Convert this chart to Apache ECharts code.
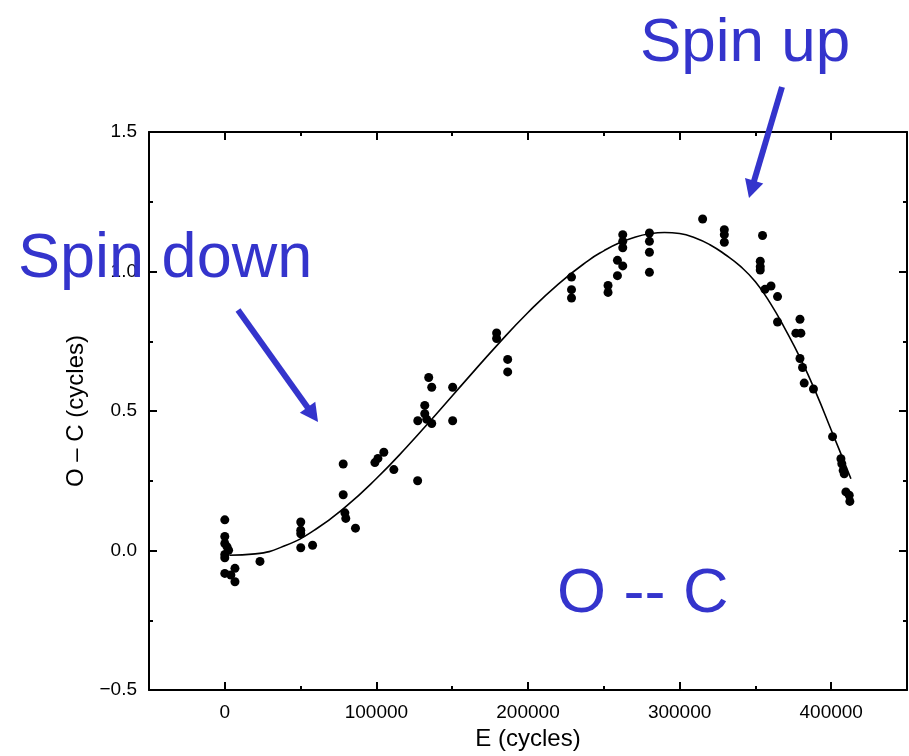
<!DOCTYPE html>
<html><head><meta charset="utf-8">
<script src="https://cdn.jsdelivr.net/npm/echarts@6/dist/echarts.min.js"></script>
<style>html,body{margin:0;padding:0;background:#fff}#c{width:909px;height:756px}</style>
</head><body><div id="c"></div>
<script>
// ---- data ----
const obsE = [0, 0, 0, 1500, 2500, 0, 0, 0, 4000, 6700, 6700,
  23200, 50100, 50100, 50100, 50100, 57900,
  78100, 78100, 79200, 79800, 86200,
  99000, 101000, 104900, 111500, 127200,
  134500, 136500, 131900, 131900, 127300, 133200, 136500,
  150300, 150300, 179300, 179300, 186600, 186600,
  228700, 228700, 228700, 252800, 252800, 259000, 259000, 262500,
  262500, 262500, 262500, 280100, 280100, 280100, 280100,
  315200, 329500, 329500, 329500, 354700, 353200, 353200, 353200,
  356300, 360300, 364600, 364600, 379400, 376700, 380000, 379400, 381100,
  382200, 388300, 400900, 406400, 407000, 407900, 408600, 409700, 411900, 412300];
const obsOC = [0.11, 0.05, 0.025, 0.013, 0.001, -0.014, -0.026, -0.082, -0.088, -0.064, -0.112,
  -0.039, 0.102, 0.073, 0.06, 0.01, 0.019,
  0.31, 0.20, 0.135, 0.115, 0.08,
  0.315, 0.33, 0.352, 0.29, 0.25,
  0.62, 0.585, 0.52, 0.49, 0.465, 0.47, 0.455,
  0.585, 0.465, 0.78, 0.76, 0.685, 0.64,
  0.98, 0.935, 0.905, 0.95, 0.925, 0.985, 1.04, 1.02,
  1.132, 1.108, 1.085, 1.138, 1.108, 1.069, 0.997,
  1.188, 1.15, 1.132, 1.105, 1.129, 1.037, 1.017, 1.005,
  0.936, 0.948, 0.91, 0.819, 0.829, 0.779, 0.779, 0.688, 0.656,
  0.60, 0.579, 0.408, 0.329, 0.311, 0.287, 0.275, 0.21, 0.198, 0.176];
const fitE  = [3000, 20000, 40000, 60000, 80000, 100000, 120000, 140000, 160000, 180000, 200000,
  220000, 240000, 250000, 260000, 270000, 280000, 290000, 300000, 310000, 320000, 330000,
  340000, 350000, 360000, 370000, 380000, 390000, 400000, 410000, 413000];
const fitOC = [-0.017, -0.012, 0.018, 0.076, 0.158, 0.258, 0.371, 0.492, 0.616, 0.738, 0.853,
  0.955, 1.040, 1.074, 1.102, 1.122, 1.135, 1.140, 1.136, 1.121, 1.096, 1.061,
  1.019, 0.963, 0.885, 0.790, 0.685, 0.565, 0.432, 0.298, 0.257];
const xMajorTicks = [0, 100000, 200000, 300000, 400000];
const xMinorTicks = [50000, 150000, 250000, 350000];
const xRange = [-50000, 450000];
const yRange = [-0.5, 1.5];
const yStep = 0.5;
const xTitle = 'E (cycles)';
const yTitle = 'O \u2013 C (cycles)';
const notes = ['Spin down', 'Spin up', 'O -- C'];

// ---- chart ----
const FONT = '"Liberation Sans", Arial, Helvetica, sans-serif';
const INK = '#000';
const BLUE = '#3434CC';
const chart = echarts.init(document.getElementById('c'), null, {renderer: 'canvas'});

function arrow(x1, y1, x2, y2, w, hl, hw) {
  const dx = x2 - x1, dy = y2 - y1, L = Math.hypot(dx, dy);
  const ux = dx / L, uy = dy / L, px = -uy, py = ux;
  const bx = x2 - ux * hl, by = y2 - uy * hl;
  return [
    {type: 'line', z: 100, shape: {x1: x1, y1: y1, x2: bx + ux * 2, y2: by + uy * 2}, style: {stroke: BLUE, lineWidth: w}},
    {type: 'polygon', z: 100, shape: {points: [[x2, y2], [bx + px * hw / 2, by + py * hw / 2], [bx - px * hw / 2, by - py * hw / 2]]}, style: {fill: BLUE}}
  ];
}
function note(text, x, y, size) {
  return {type: 'text', z: 100, x: x, y: y, style: {text: text, fontSize: size, fontFamily: FONT, fill: BLUE, verticalAlign: 'middle'}};
}

const axisLine = {show: true, onZero: false, lineStyle: {color: INK, width: 2}};
const noLine = {show: false, onZero: false};
const baseX = {type: 'value', min: xRange[0], max: xRange[1], splitLine: {show: false}, axisLine: axisLine};
const baseY = {type: 'value', min: yRange[0], max: yRange[1], interval: yStep, splitLine: {show: false}, axisLine: axisLine};
const tick = function (len, vals) {
  const t = {show: true, inside: true, length: len, lineStyle: {color: INK, width: 2}};
  if (vals) t.customValues = vals;
  return t;
};

chart.setOption({
  backgroundColor: '#fff',
  animation: false,
  grid: {left: 149, top: 132, width: 758, height: 559, containLabel: false},
  xAxis: [
    Object.assign({}, baseX, {position: 'bottom',
      axisTick: tick(8, xMajorTicks),
      axisLabel: {show: true, customValues: xMajorTicks, margin: 13, fontSize: 19, fontFamily: FONT, color: INK,
        formatter: function (v) { return String(v); }},
      name: xTitle, nameLocation: 'middle', nameGap: 37,
      nameTextStyle: {fontSize: 24, fontFamily: FONT, color: INK}}),
    Object.assign({}, baseX, {position: 'bottom', axisLine: noLine,
      axisTick: tick(4, xMinorTicks), axisLabel: {show: false}}),
    Object.assign({}, baseX, {position: 'top',
      axisTick: tick(8, xMajorTicks), axisLabel: {show: false}}),
    Object.assign({}, baseX, {position: 'top', axisLine: noLine,
      axisTick: tick(4, xMinorTicks), axisLabel: {show: false}})
  ],
  yAxis: [
    Object.assign({}, baseY, {position: 'left',
      axisTick: tick(8),
      minorTick: {show: true, splitNumber: 2, length: 4, lineStyle: {color: INK, width: 2}},
      axisLabel: {show: true, margin: 12, fontSize: 19, fontFamily: FONT, color: INK,
        formatter: function (v) { return (v < 0 ? '\u2212' : '') + Math.abs(v).toFixed(1); }},
      name: yTitle, nameLocation: 'middle', nameGap: 42,
      nameTextStyle: {fontSize: 24, fontFamily: FONT, color: INK}}),
    Object.assign({}, baseY, {position: 'right',
      axisTick: tick(8),
      minorTick: {show: true, splitNumber: 2, length: 4, lineStyle: {color: INK, width: 2}},
      axisLabel: {show: false}})
  ],
  series: [
    {type: 'line', xAxisIndex: 0, yAxisIndex: 0, smooth: 0.5, showSymbol: false, silent: true,
      lineStyle: {color: INK, width: 1.6}, z: 3,
      data: fitE.map(function (e, i) { return [e, fitOC[i]]; })},
    {type: 'scatter', xAxisIndex: 0, yAxisIndex: 0, symbol: 'circle', symbolSize: 9,
      itemStyle: {color: '#000', opacity: 1}, z: 4,
      data: obsE.map(function (e, i) { return [e, obsOC[i]]; })}
  ],
  graphic: [].concat(
    [note(notes[0], 18, 260, 63), note(notes[1], 640, 44, 62), note(notes[2], 557, 595, 63)],
    arrow(238, 310, 318, 422, 6, 18, 19),
    arrow(782, 87, 749, 198, 6, 18, 19)
  )
});
</script></body></html>
